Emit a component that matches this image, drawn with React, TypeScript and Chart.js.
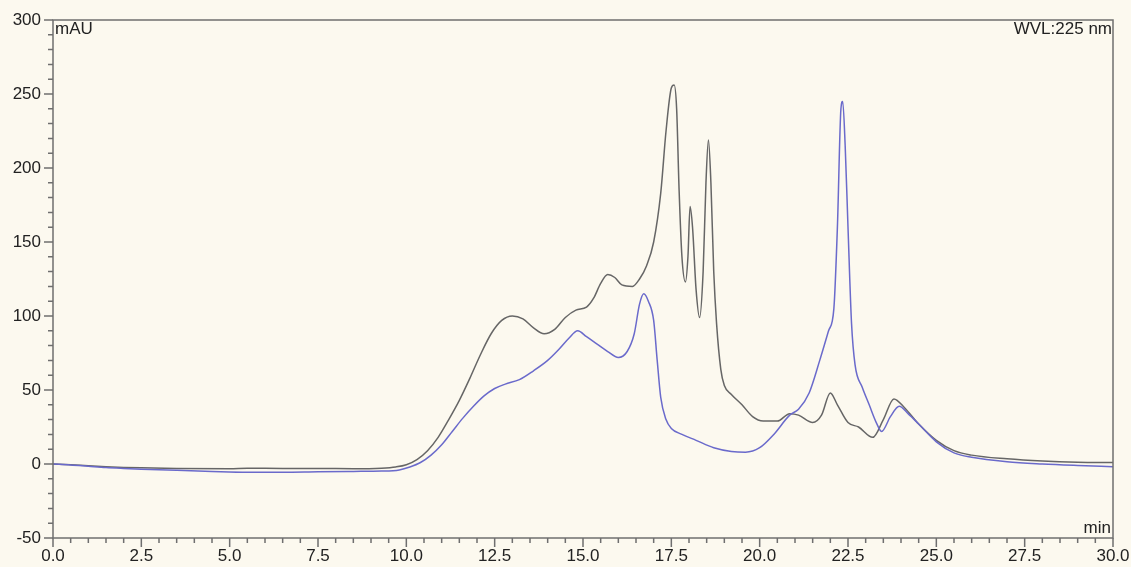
import { useEffect, useRef } from "react"
import { Chart, registerables } from "chart.js"

Chart.register(...registerables)

// Trace 1 (grey)
const greyTimes = [
  0, 0.5, 1.0, 1.5, 2.0, 2.5, 3.5, 5.0, 5.5, 6.5, 7.5, 8.5, 9.3, 9.7, 10.0, 10.3, 10.6, 10.9, 11.2, 11.5,
  11.8, 12.1, 12.4, 12.7, 13.0, 13.3, 13.6, 13.9, 14.2, 14.5, 14.8, 15.1, 15.3, 15.5, 15.7, 15.9, 16.1,
  16.4, 16.6, 16.8, 17.0, 17.2, 17.35, 17.5, 17.58, 17.65, 17.72, 17.8, 17.9, 17.97, 18.03, 18.1, 18.2,
  18.3, 18.4, 18.48, 18.55, 18.62, 18.7, 18.78, 18.9, 19.0, 19.2, 19.5, 19.8, 20.1, 20.5, 20.85, 21.1,
  21.5, 21.75, 22.0, 22.2, 22.5, 22.8, 23.2, 23.5, 23.8, 24.1, 24.5, 25.0, 25.5, 26.0, 27.0, 28.0, 29.0, 30.0,
]
const greyValues = [
  0, -0.5, -1.2, -1.8, -2.3, -2.6, -3.0, -3.2, -2.8, -3.0, -3.0, -3.2, -2.8, -2.0, -0.5, 3, 9, 18, 30, 43,
  58, 74, 88, 97, 100, 98, 92, 88, 91, 99, 104, 106, 112, 122, 128, 126, 121,
  120, 125, 134, 150, 183, 225, 254, 256, 240, 185, 140, 123, 140, 174, 160, 118,
  99, 130, 190, 219, 190, 130, 95, 64, 53, 47, 40, 32, 29, 29, 34, 33,
  28, 33, 48, 40, 28, 25, 18, 30, 44, 38, 27, 16, 9, 6, 3.5, 2, 1.2, 1,
]

// Trace 2 (blue)
const blueTimes = [
  0, 0.5, 1.0, 1.5, 2.0, 2.5, 3.5, 4.5, 5.5, 6.5, 7.5, 8.5, 9.3, 9.8, 10.1, 10.4, 10.7, 11.0, 11.3, 11.6,
  11.9, 12.2, 12.5, 12.8, 13.2, 13.6, 14.0, 14.3, 14.6, 14.85, 15.1, 15.4, 15.7, 16.0, 16.25, 16.45, 16.6,
  16.72, 16.85, 17.0, 17.1, 17.2, 17.35, 17.5, 17.8, 18.2, 18.7, 19.2, 19.6, 20.0, 20.4, 20.85, 21.1, 21.4,
  21.7, 21.95, 22.1, 22.2, 22.3, 22.35, 22.42, 22.5, 22.6, 22.7, 22.9, 23.1, 23.3, 23.45, 23.7, 23.95, 24.2,
  24.5, 25.0, 25.5, 26.0, 27.0, 28.0, 29.0, 30.0,
]
const blueValues = [
  0, -0.6, -1.5, -2.4, -3.0, -3.5, -4.3, -5.0, -5.5, -5.5, -5.2, -5.0, -4.8, -4.0, -2, 1, 6, 13, 22, 31,
  39, 46, 51, 54, 57, 63, 70, 77, 85, 90, 86, 81, 76, 72, 76, 88, 108,
  115, 110, 97, 70, 45, 30, 24, 20, 16, 11, 8.5, 8, 11, 20, 33, 37, 48,
  70, 90, 105, 160, 240, 245, 215, 160, 95, 67, 52, 40, 28, 22, 32, 39, 34,
  27, 15, 7.5, 4.5, 1.5, 0, -1, -1.8,
]

const FONT = "'Liberation Sans', Arial, sans-serif"
const AXIS_COLOR = "#6f6f6f"
const TEXT_COLOR = "#222222"

// frame, minor/major ticks and corner labels
const chromFrame = {
  id: "chromFrame",
  afterDraw(chart: Chart) {
    const { ctx, chartArea } = chart
    const xs = chart.scales.x
    const ys = chart.scales.y
    ctx.save()
    ctx.strokeStyle = AXIS_COLOR
    ctx.lineWidth = 1.5
    ctx.strokeRect(chartArea.left, chartArea.top, chartArea.right - chartArea.left, chartArea.bottom - chartArea.top)

    ctx.beginPath()
    for (let v = -50; v <= 300; v += 10) {
      const y = ys.getPixelForValue(v)
      const len = v % 50 === 0 ? 9 : 5
      ctx.moveTo(chartArea.left - len, y)
      ctx.lineTo(chartArea.left, y)
    }
    for (let i = 0; i <= 60; i++) {
      const t = i * 0.5
      const x = xs.getPixelForValue(t)
      const len = i % 5 === 0 ? 9 : 5
      ctx.moveTo(x, chartArea.bottom)
      ctx.lineTo(x, chartArea.bottom + len)
    }
    ctx.stroke()

    ctx.fillStyle = TEXT_COLOR
    ctx.font = `17px ${FONT}`
    ctx.textBaseline = "top"
    ctx.textAlign = "left"
    ctx.fillText("mAU", chartArea.left + 2, chartArea.top + 1)
    ctx.textAlign = "right"
    ctx.fillText("WVL:225 nm", chartArea.right - 1, chartArea.top + 1)
    ctx.textBaseline = "bottom"
    ctx.fillText("min", chartArea.right - 2, chartArea.bottom - 1)
    ctx.restore()
  },
}

export default function App() {
  const chartRef = useRef<HTMLCanvasElement>(null)
  const chartInstance = useRef<Chart | null>(null)

  useEffect(() => {
    document.body.style.margin = "0"
    if (!chartRef.current) return
    if (chartInstance.current) chartInstance.current.destroy()
    const ctx = chartRef.current.getContext("2d")
    if (!ctx) return

    chartInstance.current = new Chart(ctx, {
      type: "line",
      data: {
        datasets: [
          {
            label: "Trace 2",
            data: blueTimes.map((t, i) => ({ x: t, y: blueValues[i] })),
            borderColor: "#6a6acb",
            borderWidth: 1.5,
            pointRadius: 0,
            cubicInterpolationMode: "monotone",
          },
          {
            label: "Trace 1",
            data: greyTimes.map((t, i) => ({ x: t, y: greyValues[i] })),
            borderColor: "#666666",
            borderWidth: 1.5,
            pointRadius: 0,
            cubicInterpolationMode: "monotone",
          },
        ],
      },
      options: {
        responsive: false,
        animation: false,
        layout: { padding: { top: 20, right: 18, left: 0, bottom: 0 } },
        plugins: {
          legend: { display: false },
          tooltip: { enabled: false },
        },
        scales: {
          x: {
            type: "linear",
            min: 0,
            max: 30,
            grid: { display: false, drawTicks: false },
            border: { display: false },
            ticks: {
              stepSize: 2.5,
              padding: 8,
              color: TEXT_COLOR,
              font: { family: FONT, size: 17 },
              maxRotation: 0,
              autoSkip: false,
              callback: (v) => Number(v).toFixed(1),
            },
            afterFit: (scale) => {
              scale.height = 29
              scale.paddingLeft = 0
              scale.paddingRight = 0
            },
          },
          y: {
            type: "linear",
            min: -50,
            max: 300,
            grid: { display: false, drawTicks: false },
            border: { display: false },
            ticks: {
              stepSize: 50,
              padding: 12,
              color: TEXT_COLOR,
              font: { family: FONT, size: 17 },
            },
            afterFit: (scale) => {
              scale.width = 53
              scale.paddingTop = 0
              scale.paddingBottom = 0
            },
          },
        },
      },
      plugins: [chromFrame],
    })

    return () => {
      if (chartInstance.current) {
        chartInstance.current.destroy()
        chartInstance.current = null
      }
    }
  }, [])

  return (
    <div style={{ width: 1131, height: 567, background: "#fcf9ef" }}>
      <canvas ref={chartRef} width={1131} height={567} style={{ display: "block" }} />
    </div>
  )
}
